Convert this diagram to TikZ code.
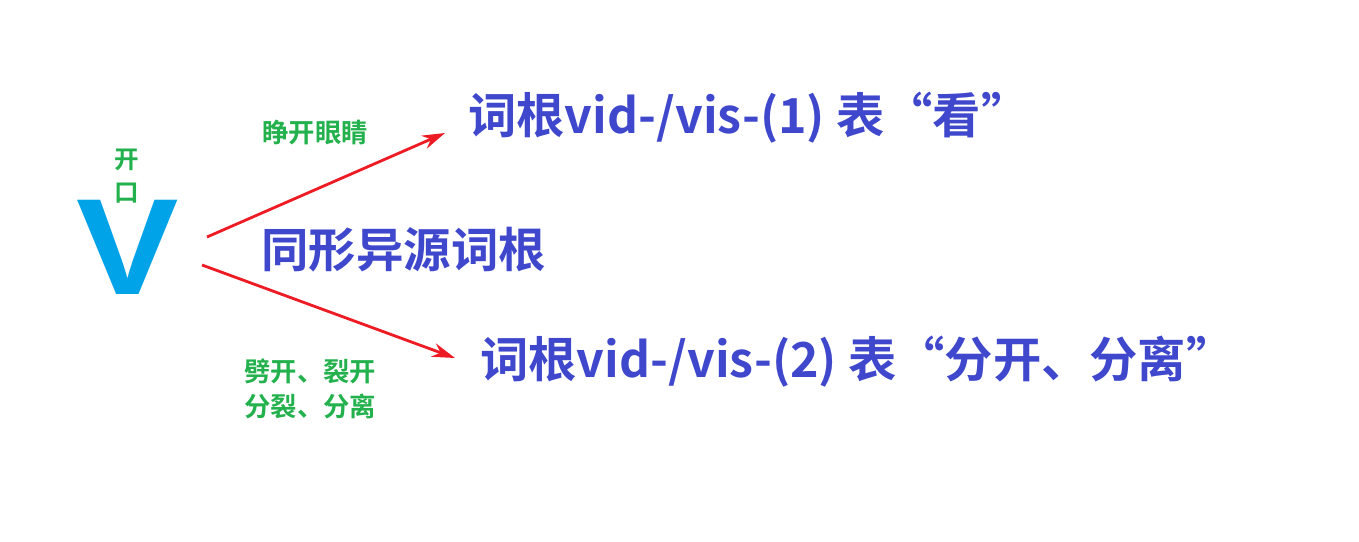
\documentclass[tikz,border=0pt]{standalone}
\usepackage{fontspec}
\newfontfamily\cjk{Noto Sans CJK SC}[BoldFont={* Bold}]
\setmainfont{Liberation Sans}
\usetikzlibrary{arrows.meta}
\definecolor{rootblue}{HTML}{3F48CC}
\definecolor{sensegreen}{HTML}{22B14C}
\definecolor{arrowred}{HTML}{ED1C24}
\definecolor{vcyan}{HTML}{00A2E8}
\begin{document}
\begin{tikzpicture}[x=0.02cm,y=-0.02cm,
    roottext/.style={inner sep=0,anchor=west,text=rootblue,font=\cjk\bfseries\fontsize{27.5}{32}\selectfont},
    sensetext/.style={inner sep=0,text=sensegreen,font=\cjk\bfseries\fontsize{15}{18}\selectfont},
    splitarrow/.style={draw=arrowred,line width=1.6pt,-{Stealth[length=13pt,width=8pt]}}]
        \useasboundingbox (0,0) rectangle (1359,541);
        \node[inner sep=0,text=vcyan,xscale=1.12,font=\bfseries\fontsize{78}{78}\selectfont] (letterv) at (128,247) {V};
        \node[sensetext,font=\cjk\bfseries\fontsize{14}{17}\selectfont] (kai) at (127,160) {开};
        \node[sensetext,font=\cjk\bfseries\fontsize{14}{17}\selectfont] (kou) at (127,193) {口};
        \node[roottext] (sense1) at (468,118) {词根vid-/vis-(1) 表“看”};
        \node[roottext] (sense2) at (480,362) {词根vid-/vis-(2) 表“分开、分离”};
        \node[roottext,font=\cjk\bfseries\fontsize{27}{32}\selectfont] (homo) at (261,250) {同形异源词根};
        \node[sensetext,anchor=west] (open) at (262,133) {睁开眼睛};
        \node[sensetext,anchor=west,align=left] (split) at (244,389) {劈开、裂开\\[2pt]分裂、分离};
        \coordinate (from1) at (207,237);
        \coordinate (to1) at (445,133);
        \coordinate (from2) at (202,265);
        \coordinate (to2) at (455,358);
        \draw[splitarrow] (from1) -- (to1);
        \draw[splitarrow] (from2) -- (to2);
\end{tikzpicture}
\end{document}
